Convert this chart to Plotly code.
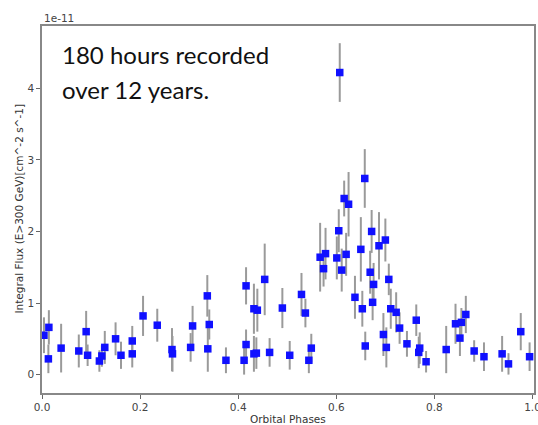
import plotly.graph_objects as go

# Values in units of 1e-11 (offset label shown on the axis)
phase = [0.004, 0.014, 0.013, 0.039, 0.075, 0.090, 0.093, 0.117, 0.122, 0.128,
         0.150, 0.161, 0.184, 0.184, 0.206, 0.235, 0.265, 0.266, 0.303, 0.307,
         0.337, 0.338, 0.341, 0.375, 0.412, 0.416, 0.416, 0.432, 0.437, 0.432,
         0.439, 0.454, 0.464, 0.490, 0.505, 0.529, 0.537, 0.544, 0.549, 0.567,
         0.578, 0.574, 0.601, 0.605, 0.607, 0.611, 0.616, 0.625, 0.620, 0.638,
         0.650, 0.653, 0.659, 0.658, 0.669, 0.672, 0.674, 0.676, 0.687, 0.700,
         0.696, 0.702, 0.707, 0.711, 0.722, 0.729, 0.744, 0.763, 0.768, 0.770,
         0.783, 0.824, 0.843, 0.855, 0.852, 0.864, 0.881, 0.901, 0.938, 0.951,
         0.976, 0.994]
flux = [0.55, 0.66, 0.22, 0.37, 0.33, 0.60, 0.27, 0.19, 0.26, 0.38,
        0.50, 0.27, 0.47, 0.29, 0.82, 0.69, 0.35, 0.29, 0.38, 0.68,
        1.10, 0.36, 0.70, 0.20, 0.20, 0.42, 1.24, 0.29, 0.30, 0.92,
        0.90, 1.33, 0.31, 0.93, 0.27, 1.12, 0.86, 0.20, 0.37, 1.64,
        1.69, 1.48, 1.63, 2.01, 4.22, 1.46, 2.46, 2.38, 1.68, 1.08,
        1.75, 0.92, 0.40, 2.74, 1.43, 2.00, 1.01, 1.26, 1.80, 1.88,
        0.56, 0.38, 1.33, 0.92, 0.87, 0.65, 0.43, 0.76, 0.31, 0.37,
        0.18, 0.35, 0.71, 0.73, 0.51, 0.84, 0.33, 0.25, 0.29, 0.15,
        0.60, 0.25]
flux_err = [0.25, 0.24, 0.20, 0.34, 0.23, 0.29, 0.15, 0.15, 0.15, 0.23,
            0.23, 0.19, 0.21, 0.19, 0.28, 0.23, 0.30, 0.25, 0.20, 0.28,
            0.29, 0.32, 0.21, 0.18, 0.20, 0.21, 0.26, 0.25, 0.22, 0.35,
            0.30, 0.50, 0.20, 0.28, 0.20, 0.30, 0.20, 0.18, 0.20, 0.48,
            0.36, 0.25, 0.30, 0.30, 0.41, 0.30, 0.25, 0.45, 0.30, 0.30,
            0.45, 0.25, 0.20, 0.41, 0.30, 0.30, 0.25, 0.30, 0.47, 0.30,
            0.30, 0.28, 0.22, 0.28, 0.28, 0.22, 0.18, 0.22, 0.22, 0.22,
            0.15, 0.33, 0.28, 0.20, 0.25, 0.26, 0.15, 0.20, 0.25, 0.15,
            0.26, 0.20]

x_ticks = [0.0, 0.2, 0.4, 0.6, 0.8, 1.0]
x_tick_labels = ["0.0", "0.2", "0.4", "0.6", "0.8", "1.0"]
y_ticks = [0, 1, 2, 3, 4]
y_tick_labels = ["0", "1", "2", "3", "4"]

W, H = 538, 425
ML, MR, MT, MB = 42, 4, 26, 32
plot_h = H - MT - MB


def py(y_px):
    return (H - MB - y_px) / plot_h


fig = go.Figure()
fig.add_trace(go.Scatter(
    x=phase, y=flux, mode="markers",
    marker=dict(symbol="square", size=7.5, color="#1010ff"),
    error_y=dict(type="data", array=flux_err, color="#9a9a9a", thickness=2, width=0),
    showlegend=False,
))

tickfont = dict(family="DejaVu Sans", size=10.5, color="#444")
fig.update_layout(
    width=W, height=H,
    margin=dict(l=ML, r=MR, t=MT, b=MB, autoexpand=False),
    paper_bgcolor="white", plot_bgcolor="white",
    xaxis=dict(range=[0, 1.003], tickvals=x_ticks, ticktext=x_tick_labels,
               ticks="outside", ticklen=4, tickcolor="#666", tickfont=tickfont,
               ticklabeloverflow="allow", automargin=False,
               showline=True, linecolor="#888", linewidth=1.5, mirror=True,
               showgrid=False, zeroline=False),
    yaxis=dict(range=[-0.257, 4.87], tickvals=y_ticks, ticktext=y_tick_labels,
               ticks="outside", ticklen=4, tickcolor="#666", tickfont=tickfont,
               automargin=False,
               showline=True, linecolor="#888", linewidth=1.5, mirror=True,
               showgrid=False, zeroline=False),
    annotations=[
        dict(text="1e-11", xref="paper", yref="paper", x=0, y=py(18),
             xanchor="left", yanchor="middle", showarrow=False,
             font=dict(family="DejaVu Sans", size=10.5, color="#444")),
        dict(text="Integral Flux (E>300 GeV)[cm^-2 s^-1]", xref="paper", yref="paper",
             x=0, xshift=-24, y=0.5, xanchor="center", yanchor="middle",
             textangle=-90, showarrow=False,
             font=dict(family="DejaVu Sans", size=10.5, color="#333")),
        dict(text="Orbital Phases", xref="paper", yref="paper", x=0.5, y=py(419),
             xanchor="center", yanchor="middle", showarrow=False,
             font=dict(family="DejaVu Sans", size=10.5, color="#333")),
        dict(text="180 hours recorded", xref="paper", yref="paper",
             x=(60 - ML) / (W - ML - MR), y=py(55), xanchor="left", yanchor="middle",
             showarrow=False, font=dict(family="Lato", size=24, color="#111")),
        dict(text="over 12 years.", xref="paper", yref="paper",
             x=(60 - ML) / (W - ML - MR), y=py(89), xanchor="left", yanchor="middle",
             showarrow=False, font=dict(family="Lato", size=24, color="#111")),
    ],
)

fig.write_html("out.html")
